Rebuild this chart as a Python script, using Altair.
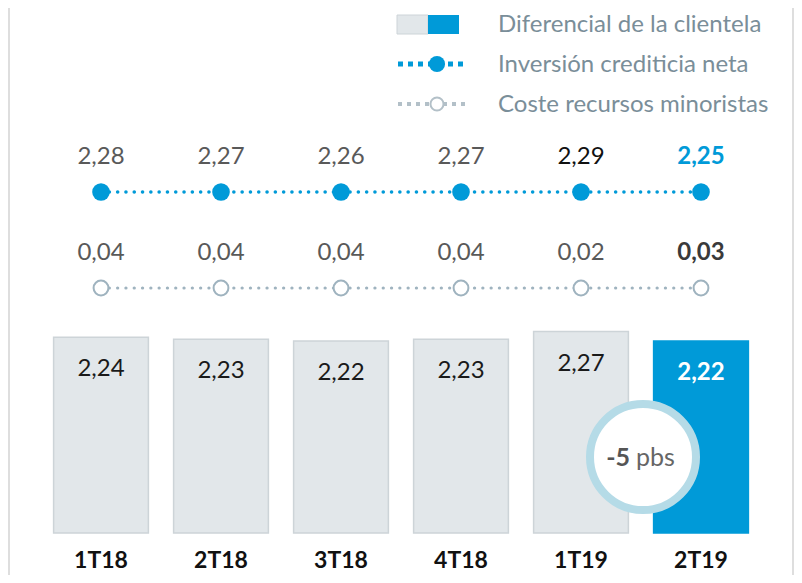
import altair as alt
import pandas as pd

categories = ["1T18", "2T18", "3T18", "4T18", "1T19", "2T19"]
diferencial = [2.24, 2.23, 2.22, 2.23, 2.27, 2.22]
inversion = [2.28, 2.27, 2.26, 2.27, 2.29, 2.25]
coste = [0.04, 0.04, 0.04, 0.04, 0.02, 0.03]
legend_labels = ["Diferencial de la clientela", "Inversión crediticia neta", "Coste recursos minoristas"]
delta_value = ["-5"]
delta_unit = ["pbs"]

W, H = 786, 567
BASE = 1.21
TOP = BASE + 525 / 190
FONT = "Lato"
BLUE = "#009ad8"
GREYBAR = "#e2e7ea"
GREYLINE = "#9fb3bf"
LEGTXT = "#7a8e99"
LY = 7  # legend vertical shift

df = pd.DataFrame({"cat": categories, "dif": diferencial, "inv": inversion, "cos": coste})
df["base"] = BASE
fmt = lambda f: f"replace(format(datum.{f}, '.2f'), '.', ',')"

base = alt.Chart(df).transform_calculate(
    difl=fmt("dif"), invl=fmt("inv"), cosl=fmt("cos")
)
X = alt.X("cat:N", sort=categories, axis=None,
          scale=alt.Scale(paddingInner=0.21, paddingOuter=0.38))
YB = alt.Y("dif:Q", axis=None, scale=alt.Scale(domain=[BASE, TOP], range=[525, 0], nice=False, zero=False))
last = "datum.cat == '2T19'"
notlast = "datum.cat != '2T19'"

one = pd.DataFrame({"a": [0]})
edges = alt.Chart(one).mark_rule(color="#dedede", strokeWidth=2).encode(
    x=alt.value(1), y=alt.value(0), y2=alt.value(H))
edges2 = alt.Chart(one).mark_rule(color="#dedede", strokeWidth=2).encode(
    x=alt.value(W - 1), y=alt.value(0), y2=alt.value(H))

bars = base.mark_bar(strokeWidth=1.5).encode(
    x=X, y=YB, y2="base:Q",
    fill=alt.condition(last, alt.value(BLUE), alt.value(GREYBAR)),
    stroke=alt.condition(last, alt.value(BLUE), alt.value("#cdd4d8")),
)
bar_lab = base.transform_filter(notlast).mark_text(
    font=FONT, fontSize=24, color="#1a1a1a", baseline="middle", dy=32).encode(
    x=X, y=YB, text="difl:N")
bar_lab_last = base.transform_filter(last).mark_text(
    font=FONT, fontSize=24, fontWeight="bold", color="white", baseline="middle", dy=32).encode(
    x=X, y=YB, text="difl:N")

inv_line = base.mark_line(color=BLUE, strokeWidth=3.5, strokeCap="round", strokeDash=[0.1, 8.2]).encode(
    x=X, y=alt.value(184))
inv_dots = base.mark_circle(color=BLUE, size=310, opacity=1).encode(x=X, y=alt.value(184))
inv_lab = base.transform_filter("datum.cat != '2T19' && datum.cat != '1T19'").mark_text(
    font=FONT, fontSize=24, color="#595959", baseline="middle").encode(x=X, y=alt.value(149), text="invl:N")
inv_lab2 = base.transform_filter("datum.cat == '1T19'").mark_text(
    font=FONT, fontSize=24, color="#111111", baseline="middle").encode(x=X, y=alt.value(149), text="invl:N")
inv_lab3 = base.transform_filter(last).mark_text(
    font=FONT, fontSize=24, fontWeight="bold", color=BLUE, baseline="middle").encode(x=X, y=alt.value(149), text="invl:N")

cos_line = base.mark_line(color=GREYLINE, strokeWidth=3.2, strokeCap="round", strokeDash=[0.1, 8.2]).encode(
    x=X, y=alt.value(280))
cos_dots = base.mark_point(shape="circle", size=220, filled=True, fill="white", stroke=GREYLINE,
                           strokeWidth=2, opacity=1).encode(x=X, y=alt.value(280))
cos_lab = base.transform_filter(notlast).mark_text(
    font=FONT, fontSize=24, color="#595959", baseline="middle").encode(x=X, y=alt.value(245), text="cosl:N")
cos_lab2 = base.transform_filter(last).mark_text(
    font=FONT, fontSize=24, fontWeight="bold", color="#3a3a3a", baseline="middle").encode(x=X, y=alt.value(245), text="cosl:N")

cat_lab = base.mark_text(font=FONT, fontSize=23, fontWeight="bold", color="#111111", baseline="middle").encode(
    x=X, y=alt.value(553), text="cat:N")

ann = base.transform_filter(last)
ring = ann.mark_point(shape="circle", size=11236, filled=True, fill="white", stroke="#b5dbe7",
                      strokeWidth=8, opacity=1, xOffset=-58).encode(x=X, y=alt.value(449))
ann_df = pd.DataFrame({"cat": ["2T19"], "v": delta_value, "u": delta_unit})
ann_v = alt.Chart(ann_df).mark_text(font=FONT, fontSize=25, fontWeight="bold", color="#555555",
                                    align="right", baseline="middle", xOffset=-71).encode(
    x=X, y=alt.value(450), text="v:N")
ann_u = alt.Chart(ann_df).mark_text(font=FONT, fontSize=25, color="#666666",
                                    align="left", baseline="middle", xOffset=-65).encode(
    x=X, y=alt.value(450), text="u:N")

# legend
leg = []
leg.append(alt.Chart(one).mark_rect(fill=GREYBAR, stroke="#cdd4d8", strokeWidth=1).encode(
    x=alt.value(389), x2=alt.value(420), y=alt.value(LY), y2=alt.value(LY + 19)))
leg.append(alt.Chart(one).mark_rect(fill=BLUE).encode(
    x=alt.value(420), x2=alt.value(451), y=alt.value(LY), y2=alt.value(LY + 19)))
leg.append(alt.Chart(one).mark_rule(color=BLUE, strokeWidth=5, strokeDash=[5, 5]).encode(
    x=alt.value(390), x2=alt.value(460), y=alt.value(LY + 49)))
leg.append(alt.Chart(one).mark_point(shape="circle", size=260, filled=True, color=BLUE, opacity=1).encode(
    x=alt.value(429), y=alt.value(LY + 49)))
leg.append(alt.Chart(one).mark_rule(color="#b3c0c8", strokeWidth=4, strokeDash=[4, 5]).encode(
    x=alt.value(390), x2=alt.value(460), y=alt.value(LY + 89)))
leg.append(alt.Chart(one).mark_point(shape="circle", size=170, filled=True, fill="white", stroke="#b3c0c8",
                                     strokeWidth=2, opacity=1).encode(x=alt.value(429), y=alt.value(LY + 89)))
for i, lab in enumerate(legend_labels):
    ldf = pd.DataFrame({"t": [lab]})
    leg.append(alt.Chart(ldf).mark_text(font=FONT, fontSize=24, color=LEGTXT, align="left",
                                        baseline="middle").encode(
        x=alt.value(490), y=alt.value(LY + 10 + 40 * i), text="t:N"))

chart = alt.layer(
    edges, edges2, bars, bar_lab, bar_lab_last,
    inv_line, inv_dots, inv_lab, inv_lab2, inv_lab3,
    cos_line, cos_dots, cos_lab, cos_lab2,
    ring, ann_v, ann_u, cat_lab, *leg
).properties(width=W, height=H, padding=0, autosize="none", background="white"
).configure_view(strokeWidth=0)

chart.save("out.html", embed_options={"renderer": "svg", "actions": False})
